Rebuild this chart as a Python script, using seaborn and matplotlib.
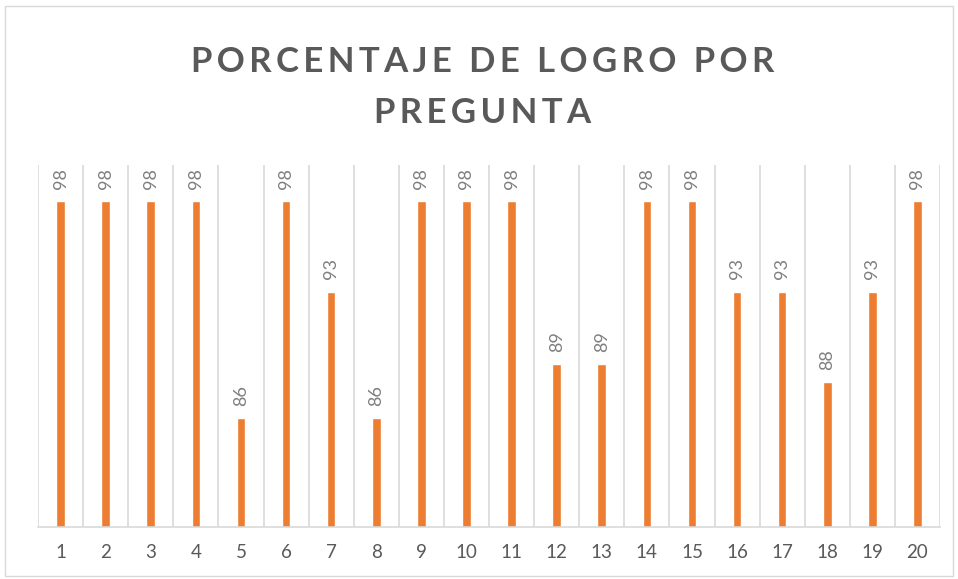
import pandas as pd
import matplotlib.pyplot as plt
import seaborn as sns
from matplotlib.patches import Rectangle

# Chart data
preguntas = [str(i) for i in range(1, 21)]
logro = [98, 98, 98, 98, 86, 98, 93, 86, 98, 98, 98, 89, 89, 98, 98, 93, 93, 88, 93, 98]
titulo = ["PORCENTAJE DE LOGRO POR", "PREGUNTA"]

df = pd.DataFrame({"pregunta": preguntas, "logro": logro})

sns.set_theme(style="white")
plt.rcParams['font.family'] = ['Lato', 'DejaVu Sans']

fig = plt.figure(figsize=(9.58, 5.79), dpi=100)
ax = fig.add_axes([38 / 958, 52 / 579, 902 / 958, 362 / 579])

sns.barplot(data=df, x="pregunta", y="logro", order=preguntas,
            color="#ED7D31", saturation=1, width=0.19, ax=ax)

# data labels, rotated like the original
for cont in ax.containers:
    ax.bar_label(cont, rotation=90, padding=9, color="#7f7f7f", fontsize=13)

ax.set_ylim(80, 100)
ax.set_xlim(-0.5, len(preguntas) - 0.5)
ax.set_yticks([])
ax.set_xlabel("")
ax.set_ylabel("")
ax.tick_params(axis="x", length=0, pad=12, labelsize=13.5, labelcolor="#595959")

# vertical gridlines between categories
ax.set_xticks([i - 0.5 for i in range(len(preguntas) + 1)], minor=True)
ax.grid(which="minor", axis="x", color="#d9d9d9", linewidth=1.2)
ax.set_axisbelow(True)
for s in ["top", "right", "left"]:
    ax.spines[s].set_visible(False)
ax.spines["bottom"].set_color("#d9d9d9")
ax.spines["bottom"].set_linewidth(1.2)

# title with wide letter spacing (thin spaces between letters)
for linea, y in zip(titulo, [62, 113]):
    espaciado = "\u2009".join(linea)
    fig.text(483 / 958, 1 - y / 579, espaciado, ha="center", va="center",
             fontsize=25, fontweight="bold", color="#595959")

# chart area border
fig.patches.append(Rectangle((5 / 958, 3 / 579), 948 / 958, 570 / 579,
                             transform=fig.transFigure, fill=False,
                             edgecolor="#d9d9d9", linewidth=1))

fig.savefig("out.png", dpi=100, facecolor="white")
